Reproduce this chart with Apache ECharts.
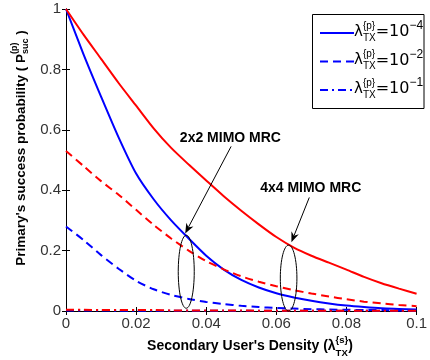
<!DOCTYPE html>
<html><head><meta charset="utf-8">
<script src="https://cdn.jsdelivr.net/npm/echarts/dist/echarts.min.js"></script>
<style>html,body{margin:0;padding:0;background:#fff}#c{width:430px;height:360px}</style>
</head><body><div id="c"></div>
<script>
// ---- data ----
const xValues = [0,0.005,0.01,0.015,0.02,0.025,0.03,0.035,0.04,0.045,0.05,0.055,0.06,0.065,0.07,0.075,0.08,0.085,0.09,0.095,0.1];
const mimo4_p1e4 = [1.0,0.915,0.835,0.755,0.68,0.605,0.54,0.485,0.432,0.38,0.332,0.287,0.245,0.21,0.183,0.16,0.137,0.113,0.092,0.074,0.057];
const mimo4_p1e2 = [0.53,0.48,0.43,0.385,0.335,0.285,0.24,0.2,0.165,0.138,0.115,0.097,0.082,0.069,0.058,0.048,0.039,0.031,0.025,0.02,0.016];
const mimo4_p1e1 = [0.004,0.004,0.003,0.003,0.003,0.003,0.002,0.002,0.002,0.002,0.002,0.001,0.001,0.001,0.001,0.001,0.001,0.001,0.001,0.001,0.001];
const mimo2_p1e4 = [1.0,0.85,0.71,0.575,0.455,0.37,0.3,0.24,0.183,0.137,0.103,0.078,0.059,0.045,0.034,0.025,0.018,0.013,0.009,0.007,0.005];
const mimo2_p1e2 = [0.28,0.235,0.185,0.14,0.1,0.072,0.053,0.04,0.03,0.023,0.017,0.013,0.01,0.008,0.006,0.005,0.004,0.003,0.003,0.002,0.002];
const mimo2_p1e1 = [0.002,0.002,0.002,0.001,0.001,0.001,0.001,0.001,0.001,0.001,0.001,0.001,0.001,0.001,0.001,0.001,0.001,0.001,0.001,0.001,0.001];
const xTicks = [0,0.02,0.04,0.06,0.08,0.1];
const yTicks = [0,0.2,0.4,0.6,0.8,1];
const legendExponents = ['\u22124','\u22122','\u22121'];
const annotations = [
  {label:'2x2 MIMO MRC', text:[0.0469,0.574], from:[0.0471,0.545], to:[0.034,0.257], ellipse:[0.0343,0.130], rx:8, ry:36.5},
  {label:'4x4 MIMO MRC', text:[0.0698,0.406], from:[0.0694,0.376], to:[0.0643,0.228], ellipse:[0.0635,0.109], rx:8.3, ry:33}
];

const RED='#ff0000', BLUE='#0000ff';
const DASH=[8,5], DASHDOT=[8,4,2,4];
const SANS='"Liberation Sans", Arial, sans-serif';
const DJ='"DejaVu Sans", sans-serif';

function pairs(ys){ return xValues.map((x,i)=>[x,ys[i]]); }
function mk(name, ys, color, type){
  return {name, type:'line', data:pairs(ys), showSymbol:false, smooth:0.25, silent:true,
    lineStyle:{color, width:2, type}, itemStyle:{color}, z:3};
}

const chart = echarts.init(document.getElementById('c'), null, {renderer:'canvas'});
const fmt = v => { const t = xTicks.concat(yTicks).find(k=>Math.abs(k-v)<1e-9); return t===undefined? '' : String(t); };
const axisCommon = {
  axisLine:{show:true, lineStyle:{color:'#000', width:1}},
  axisTick:{show:true, inside:true, length:4, lineStyle:{color:'#000'}},
  splitLine:{show:false}
};
chart.setOption({
  animation:false,
  grid:{left:66, right:4.5, top:9, bottom:49, show:false},
  xAxis:[
    Object.assign({type:'value', min:0, max:0.1, interval:0.02, position:'bottom',
      axisLabel:{color:'#333', fontFamily:SANS, fontSize:15, margin:5, formatter:fmt, showMaxLabel:true}}, axisCommon),
    Object.assign({type:'value', min:0, max:0.1, interval:0.02, position:'top', axisLabel:{show:false}}, axisCommon)
  ],
  yAxis:[
    Object.assign({type:'value', min:0, max:1, interval:0.2, position:'left',
      axisLabel:{color:'#333', fontFamily:SANS, fontSize:15, margin:5, formatter:fmt}}, axisCommon),
    Object.assign({type:'value', min:0, max:1, interval:0.2, position:'right', axisLabel:{show:false}}, axisCommon)
  ],
  series:[
    mk('2x2 1e-4', mimo2_p1e4, BLUE, 'solid'),
    mk('2x2 1e-2', mimo2_p1e2, BLUE, DASH),
    mk('2x2 1e-1', mimo2_p1e1, BLUE, DASHDOT),
    mk('4x4 1e-4', mimo4_p1e4, RED, 'solid'),
    mk('4x4 1e-2', mimo4_p1e2, RED, DASH),
    mk('4x4 1e-1', mimo4_p1e1, RED, DASHDOT)
  ]
});

// ---- text helpers (sub/superscripts) ----
const mctx = document.createElement('canvas').getContext('2d');
function fontStr(size, weight, fam){ return (weight||'normal')+' '+size+'px '+fam; }
function tw(t, size, weight, fam){ mctx.font = fontStr(size, weight, fam); return mctx.measureText(t).width; }
function layout(pieces, fam, color){
  let x=0; const items=[];
  for(const p of pieces){
    if(p.text!==undefined){
      items.push({x, y:p.dy||0, text:p.text, size:p.size, weight:p.weight, fam:p.fam||fam});
      x += tw(p.text, p.size, p.weight, p.fam||fam);
    } else {
      let w=0;
      if(p.sup){ items.push({x, y:-p.sup.dy, text:p.sup.text, size:p.sup.size, weight:p.sup.weight, fam:p.sup.fam||fam}); w=Math.max(w, tw(p.sup.text,p.sup.size,p.sup.weight,p.sup.fam||fam)); }
      if(p.sub){ items.push({x, y:p.sub.dy, text:p.sub.text, size:p.sub.size, weight:p.sub.weight, fam:p.sub.fam||fam}); w=Math.max(w, tw(p.sub.text,p.sub.size,p.sub.weight,p.sub.fam||fam)); }
      x += w;
    }
  }
  return {width:x, children: items.map(it=>({type:'text', x:it.x, y:it.y, z:12,
    style:{text:it.text, font:fontStr(it.size,it.weight,it.fam), fill:color||'#000', align:'left', verticalAlign:'middle'}}))};
}
function centeredGroup(pieces, fam, cx, cy, rotation, color){
  const l = layout(pieces, fam, color);
  l.children.forEach(c=>{ c.x -= l.width/2; });
  return {type:'group', x:cx, y:cy, rotation:rotation||0, children:l.children, z:12};
}

const graphics = [];
// y axis title
graphics.push(centeredGroup([
  {text:"Primary's success probability ( P", size:13.5, weight:'bold'},
  {sup:{text:'(p)', size:9, weight:'bold', dy:6}, sub:{text:'suc', size:9, weight:'bold', dy:5}},
  {text:' )', size:13.5, weight:'bold'}
], SANS, 21, 148, Math.PI/2, '#000'));
// x axis title
graphics.push(centeredGroup([
  {text:"Secondary User's Density (\u03bb", size:14, weight:'bold'},
  {sup:{text:'{s}', size:9.5, weight:'bold', dy:6}, sub:{text:'TX', size:9.5, weight:'bold', dy:7}},
  {text:')', size:14, weight:'bold'}
], SANS, 250, 346, 0, '#000'));

// legend (layout element)
const legTypes = [null, DASH, DASHDOT];
const legRows = [33, 61.5, 90];
graphics.push({type:'rect', shape:{x:312.5, y:14.5, width:111.5, height:94}, style:{fill:'#fff', stroke:'#000', lineWidth:1}, z:9});
legRows.forEach((ry,i)=>{
  graphics.push({type:'line', shape:{x1:320, y1:ry, x2:354, y2:ry}, style:{stroke:BLUE, lineWidth:2, lineDash:legTypes[i]}, z:12});
  const l = layout([
    {text:'\u03bb', size:15},
    {sup:{text:'{p}', size:10, dy:6, fam:SANS}, sub:{text:'TX', size:10, dy:6, fam:SANS}},
    {text:'=10', size:16},
    {sup:{text:legendExponents[i], size:12, dy:6, fam:SANS}}
  ], DJ, '#000');
  graphics.push({type:'group', x:354, y:ry-1, children:l.children, z:12});
});

// annotations anchored in data coordinates
const toPx = p => chart.convertToPixel({xAxisIndex:0, yAxisIndex:0}, p);
annotations.forEach(a=>{
  const t = toPx(a.text), f = toPx(a.from), e = toPx(a.to), c = toPx(a.ellipse);
  graphics.push({type:'text', x:t[0], y:t[1], style:{text:a.label, font:fontStr(14,'bold',SANS), fill:'#000', align:'center', verticalAlign:'middle'}, z:12});
  const dx=e[0]-f[0], dy=e[1]-f[1], len=Math.hypot(dx,dy), ux=dx/len, uy=dy/len, nx=-uy, ny=ux;
  const L=10, W=4, N=3;
  graphics.push({type:'line', shape:{x1:f[0], y1:f[1], x2:e[0]-ux*(L-N), y2:e[1]-uy*(L-N)}, style:{stroke:'#000', lineWidth:1}, z:12});
  graphics.push({type:'polygon', shape:{points:[[e[0],e[1]],[e[0]-ux*L+nx*W, e[1]-uy*L+ny*W],[e[0]-ux*(L-N), e[1]-uy*(L-N)],[e[0]-ux*L-nx*W, e[1]-uy*L-ny*W]]}, style:{fill:'#000'}, z:12});
  graphics.push({type:'ellipse', shape:{cx:c[0], cy:c[1], rx:a.rx, ry:a.ry}, style:{fill:'none', stroke:'#000', lineWidth:1}, z:12});
});
chart.setOption({graphic:graphics});
</script>
</body></html>
